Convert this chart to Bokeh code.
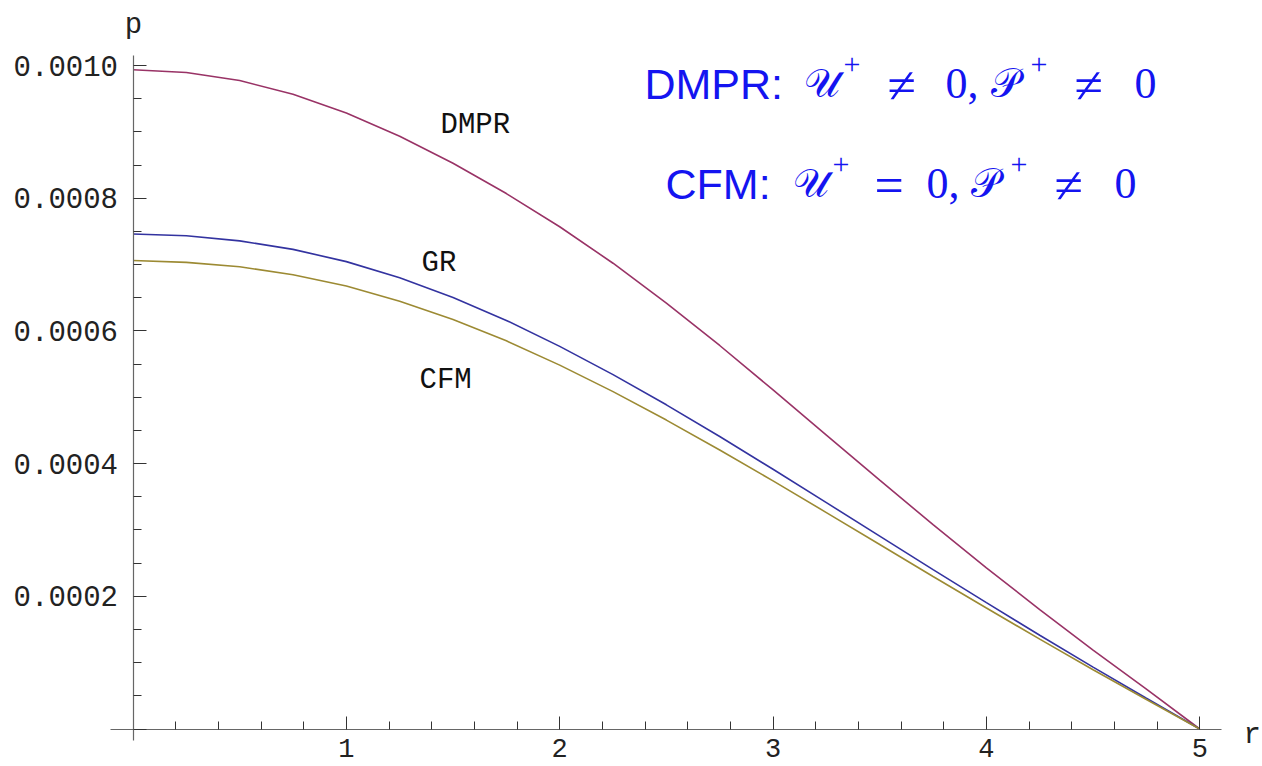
from bokeh.plotting import figure
from bokeh.models import Range1d, FixedTicker, CustomJSTickFormatter, ColumnDataSource
from bokeh.core.properties import value
from bokeh.embed import file_html
from bokeh.resources import INLINE

# ---- data ----
r = [0.0, 0.25, 0.5, 0.75, 1.0, 1.25, 1.5, 1.75, 2.0, 2.25, 2.5,
     2.75, 3.0, 3.25, 3.5, 3.75, 4.0, 4.25, 4.5, 4.75, 5.0]
p_dmpr = [9.935e-4, 9.895e-4, 9.773e-4, 9.568e-4, 9.285e-4, 8.935e-4, 8.527e-4, 8.07e-4, 7.57e-4,
          7.02e-4, 6.42e-4, 5.78e-4, 5.11e-4, 4.43e-4, 3.75e-4, 3.08e-4, 2.43e-4, 1.80e-4,
          1.19e-4, 0.60e-4, 0.0]
p_gr = [7.46e-4, 7.434e-4, 7.357e-4, 7.229e-4, 7.044e-4, 6.80e-4, 6.504e-4, 6.158e-4, 5.767e-4,
        5.341e-4, 4.886e-4, 4.408e-4, 3.915e-4, 3.412e-4, 2.906e-4, 2.402e-4, 1.904e-4, 1.413e-4,
        0.933e-4, 0.463e-4, 0.0]
p_cfm = [7.06e-4, 7.033e-4, 6.967e-4, 6.846e-4, 6.678e-4, 6.446e-4, 6.172e-4, 5.850e-4, 5.484e-4,
         5.085e-4, 4.656e-4, 4.205e-4, 3.739e-4, 3.262e-4, 2.781e-4, 2.299e-4, 1.824e-4, 1.354e-4,
         0.894e-4, 0.444e-4, 0.0]

x_ticks = [0, 1, 2, 3, 4, 5]
x_minor = [0.2, 0.4, 0.6, 0.8, 1.2, 1.4, 1.6, 1.8, 2.2, 2.4, 2.6, 2.8,
           3.2, 3.4, 3.6, 3.8, 4.2, 4.4, 4.6, 4.8]
y_ticks = [0.0, 0.0002, 0.0004, 0.0006, 0.0008, 0.0010]
y_minor = [0.00005, 0.0001, 0.00015, 0.00025, 0.0003, 0.00035, 0.00045, 0.0005, 0.00055,
           0.00065, 0.0007, 0.00075, 0.00085, 0.0009, 0.00095]

curve_names = ["DMPR", "GR", "CFM"]
curve_colors = ["#993366", "#3333a0", "#9c8a33"]

MONO = "Liberation Mono"
BLUE = "#1414f0"
W, H = 1262, 766
X0, SX = 132.5, 213.35      # pixel of r=0, pixels per unit r
Y0, SY = 728.5, 663500.0    # pixel of p=0, pixels per unit p


def at(px, py):
    """pixel position -> data position (for annotations only)"""
    return (px - X0) / SX, (Y0 - py) / SY


p = figure(width=W, height=H,
           x_range=Range1d(-X0 / SX, (W - X0) / SX), y_range=Range1d((Y0 - H) / SY, Y0 / SY),
           output_backend="svg", toolbar_location=None, min_border=0,
           outline_line_color=None, background_fill_color="white")
p.grid.visible = False

xa = p.xaxis[0]
xa.fixed_location = 0
xa.bounds = (at(110, 0)[0], at(1221, 0)[0])
xa.ticker = FixedTicker(ticks=x_ticks, minor_ticks=x_minor)
xa.formatter = CustomJSTickFormatter(code="return tick == 0 ? '' : tick.toFixed(0)")

ya = p.yaxis[0]
ya.fixed_location = 0
ya.bounds = (at(0, 740)[1], at(0, 55)[1])
ya.ticker = FixedTicker(ticks=y_ticks, minor_ticks=y_minor)
ya.formatter = CustomJSTickFormatter(code="return tick == 0 ? '' : tick.toFixed(4)")

for ax in (xa, ya):
    ax.axis_line_color = "#666666"
    ax.axis_line_width = 1.2
    ax.major_tick_line_color = "#333333"
    ax.minor_tick_line_color = "#333333"
    ax.major_tick_in = 13
    ax.major_tick_out = 0
    ax.minor_tick_in = 8
    ax.minor_tick_out = 0
    ax.major_label_text_font = MONO
    ax.major_label_text_color = "#222222"
ya.major_label_text_font_size = "29px"
xa.major_label_text_font_size = "27px"
xa.major_label_standoff = 10
ya.major_label_standoff = 15

src = ColumnDataSource(dict(r=r, dmpr=p_dmpr, gr=p_gr, cfm=p_cfm))
for col, c in zip(["dmpr", "gr", "cfm"], curve_colors):
    p.line("r", col, source=src, line_color=c, line_width=1.6)

# curve annotations
lab_pos = [at(440, 125), at(421, 263), at(419, 380)]
p.text(x=[a for a, b in lab_pos], y=[b for a, b in lab_pos], text=curve_names,
       text_font=value(MONO), text_font_size="29px", text_color="#111111",
       text_align="left", text_baseline="alphabetic")

# axis names
px_, py_ = at(133, 25)
p.text(x=[px_], y=[py_], text=["p"], text_font=value(MONO), text_font_size="29px",
       text_color="#222222", text_align="center", text_baseline="alphabetic")
rx_, ry_ = at(1243, 735)
p.text(x=[rx_], y=[ry_], text=["r"], text_font=value(MONO), text_font_size="29px",
       text_color="#222222", text_align="left", text_baseline="alphabetic")

# blue model descriptions: (text, x pixel, baseline pixel, font, size)
SERIF, SANS = "Liberation Serif", "Liberation Sans"
blue_pieces = [
    ("DMPR:", 644, 83, SANS, "43px"),
    ("\U0001D4B0", 803, 83, SERIF, "40px"),
    ("+", 843, 64, SERIF, "30px"),
    ("\u2260", 887, 85, SERIF, "52px"),
    ("0,", 945, 83, SERIF, "44px"),
    ("\U0001D4AB", 990, 83, SERIF, "40px"),
    ("+", 1030, 64, SERIF, "30px"),
    ("\u2260", 1074, 85, SERIF, "52px"),
    ("0", 1134, 83, SERIF, "44px"),
    ("CFM:", 665, 183, SANS, "43px"),
    ("\U0001D4B0", 792, 183, SERIF, "40px"),
    ("+", 832, 164, SERIF, "30px"),
    ("=", 874, 185, SERIF, "52px"),
    ("0,", 926, 183, SERIF, "44px"),
    ("\U0001D4AB", 970, 183, SERIF, "40px"),
    ("+", 1010, 164, SERIF, "30px"),
    ("\u2260", 1054, 185, SERIF, "52px"),
    ("0", 1114, 183, SERIF, "44px"),
]
for txt, bx, by, fnt, fs in blue_pieces:
    tx, ty = at(bx, by)
    p.text(x=[tx], y=[ty], text=[txt], text_font=value(fnt), text_font_size=fs,
           text_color=BLUE, text_align="left", text_baseline="alphabetic")

open("out.html", "w").write(file_html(p, INLINE))
